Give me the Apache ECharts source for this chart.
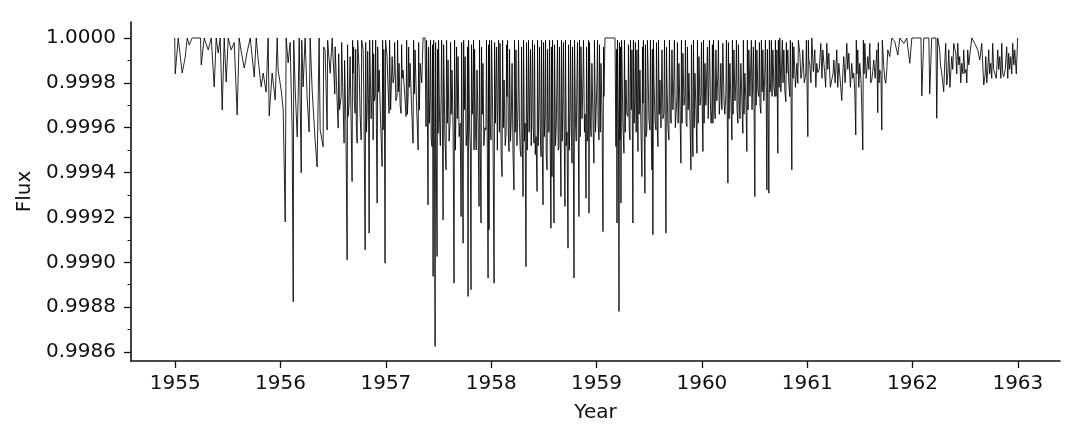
<!DOCTYPE html>
<html>
<head>
<meta charset="utf-8">
<script src="https://cdn.jsdelivr.net/npm/echarts@6/dist/echarts.min.js"></script>
<style>
html,body{margin:0;padding:0;background:#fff;}
#chart{width:1084px;height:441px;}
</style>
</head>
<body>
<div id="chart"></div>
<script>
// Light curve values: [year, flux]
const seg1955 = [[1954.995,1],[1955.000,0.999840],[1955.028,1],[1955.066,0.999844],[1955.095,0.999915],[1955.114,1],[1955.133,0.999969],[1955.161,1],[1955.240,1],[1955.247,0.999880],[1955.275,1],[1955.313,0.999947],[1955.342,1],[1955.370,0.999782],[1955.389,1],[1955.408,0.999933],[1955.427,1],[1955.446,0.999679],[1955.465,1],[1955.484,0.999804],[1955.503,1],[1955.531,0.999947],[1955.560,0.999980],[1955.588,0.999657],[1955.607,1],[1955.626,0.999940],[1955.655,0.999866],[1955.683,0.999938],[1955.712,1],[1955.750,0.999826],[1955.769,1],[1955.788,0.999902],[1955.816,0.999782],[1955.835,0.999844],[1955.863,0.999759],[1955.882,1],[1955.892,0.999653],[1955.920,0.999844],[1955.949,0.999724],[1955.968,1],[1955.977,0.999857]];
const seg1956 = [[1956.006,0.999768],[1956.025,0.999679],[1956.044,0.999180],[1956.053,1],[1956.072,0.999889],[1956.091,0.999980],[1956.110,0.999590],[1956.120,0.998824],[1956.125,0.999990],[1956.139,0.999768],[1956.158,0.999559],[1956.167,0.999737],[1956.177,1],[1956.196,0.999399],[1956.201,0.999990],[1956.214,0.999782],[1956.233,1],[1956.252,0.999737],[1956.271,0.999581],[1956.281,1],[1956.300,0.999768],[1956.328,0.999546],[1956.347,0.999425],[1956.366,1],[1956.376,0.999590],[1956.404,0.999515],[1956.409,0.999960],[1956.423,0.999947],[1956.442,0.999590],[1956.447,0.999990],[1956.471,0.999843],[1956.490,1],[1956.518,0.999961],[1956.547,0.999598],[1956.552,0.999930],[1956.575,0.999739],[1956.580,0.999980],[1956.603,0.999531],[1956.608,0.999900],[1956.632,0.999011],[1956.636,0.999970],[1956.641,0.999650],[1956.660,0.999917],[1956.679,0.999360],[1956.684,0.999990],[1956.689,0.999843],[1956.694,0.999960],[1956.708,0.999664],[1956.713,0.999950],[1956.727,0.999531],[1956.732,0.999990],[1956.746,0.999857],[1956.765,0.999546],[1956.770,0.999990],[1956.784,0.999947],[1956.803,0.999056],[1956.808,0.999980],[1956.822,0.999664],[1956.827,0.999940],[1956.841,0.999130],[1956.846,0.999990],[1956.869,0.999768],[1956.874,0.999990],[1956.879,0.999546],[1956.884,0.999930],[1956.898,0.999739],[1956.903,0.999990],[1956.917,0.999264],[1956.922,0.999960],[1956.936,0.999857],[1956.964,0.999427],[1956.969,0.999990],[1956.974,0.999590],[1956.980,0.999950],[1956.992,0.998996],[1956.997,0.999990]];
const seg1957 = [[1957.011,0.999917],[1957.030,0.999664],[1957.035,0.999990],[1957.059,0.999917],[1957.078,0.999828],[1957.083,0.999980],[1957.106,0.999739],[1957.111,0.999990],[1957.125,0.999887],[1957.144,0.999664],[1957.149,0.999970],[1957.163,0.999857],[1957.192,0.999650],[1957.197,0.999990],[1957.211,0.999739],[1957.216,0.999960],[1957.230,0.999887],[1957.258,0.999531],[1957.263,0.999990],[1957.277,0.999947],[1957.306,0.999501],[1957.311,0.999980],[1957.325,0.999887],[1957.353,1],[1957.372,1],[1957.381,0.999605],[1957.386,0.999990],[1957.400,0.999256],[1957.405,0.999960],[1957.419,0.999739],[1957.424,0.999990],[1957.438,0.999516],[1957.443,0.999970],[1957.448,0.998937],[1957.453,0.999990],[1957.467,0.998625],[1957.472,0.999980],[1957.486,0.999026],[1957.490,0.999950],[1957.495,0.999575],[1957.500,0.999990],[1957.524,0.999739],[1957.529,0.999990],[1957.543,0.999189],[1957.548,0.999970],[1957.552,0.999843],[1957.571,0.999412],[1957.576,0.999990],[1957.590,0.999902],[1957.609,0.999620],[1957.614,0.999980],[1957.628,0.999857],[1957.647,0.998907],[1957.652,0.999990],[1957.666,0.999709],[1957.671,0.999960],[1957.685,0.999917],[1957.714,0.999204],[1957.719,0.999980],[1957.733,0.999085],[1957.738,0.999990],[1957.752,0.999917],[1957.771,0.999590],[1957.775,0.999960],[1957.780,0.998848],[1957.785,0.999990],[1957.808,0.998878],[1957.813,0.999970],[1957.827,0.999739],[1957.832,0.999990],[1957.837,0.999501],[1957.842,0.999950],[1957.865,0.999857],[1957.884,0.999249],[1957.889,0.999990],[1957.903,0.999175],[1957.908,0.999960],[1957.922,0.999887],[1957.950,0.999590],[1957.955,0.999990],[1957.970,0.998930],[1957.975,0.999970],[1957.979,0.999145],[1957.984,0.999990]];
const seg1958 = [[1957.998,0.999546],[1958.003,0.999990],[1958.008,0.999857],[1958.027,0.998907],[1958.032,0.999980],[1958.046,0.999813],[1958.051,0.999960],[1958.065,0.999768],[1958.070,0.999990],[1958.084,0.999976],[1958.103,0.999382],[1958.108,0.999990],[1958.122,0.999813],[1958.141,0.999575],[1958.146,0.999970],[1958.150,0.999739],[1958.155,0.999990],[1958.169,0.999494],[1958.174,0.999950],[1958.198,0.999887],[1958.216,0.999323],[1958.221,0.999990],[1958.235,0.999947],[1958.254,0.999694],[1958.259,0.999990],[1958.283,0.999471],[1958.288,0.999960],[1958.302,0.999293],[1958.307,0.999990],[1958.330,0.998981],[1958.335,0.999980],[1958.349,0.999709],[1958.354,0.999990],[1958.368,0.999575],[1958.373,0.999950],[1958.387,0.999768],[1958.392,0.999990],[1958.406,0.999531],[1958.411,0.999970],[1958.435,0.999316],[1958.440,0.999990],[1958.454,0.999739],[1958.459,0.999960],[1958.473,0.999471],[1958.478,0.999990],[1958.492,0.999256],[1958.497,0.999980],[1958.511,0.999664],[1958.516,0.999990],[1958.530,0.999412],[1958.535,0.999950],[1958.549,0.999590],[1958.554,0.999990],[1958.567,0.999152],[1958.572,0.999960],[1958.577,0.999382],[1958.582,0.999990],[1958.596,0.999175],[1958.601,0.999970],[1958.624,0.999813],[1958.629,0.999990],[1958.643,0.999516],[1958.648,0.999960],[1958.662,0.999293],[1958.667,0.999990],[1958.681,0.999739],[1958.686,0.999980],[1958.700,0.999249],[1958.705,0.999990],[1958.729,0.999063],[1958.734,0.999970],[1958.748,0.999664],[1958.753,0.999990],[1958.767,0.999442],[1958.772,0.999960],[1958.786,0.998930],[1958.791,0.999990],[1958.814,0.999813],[1958.819,0.999980],[1958.833,0.999204],[1958.838,0.999990],[1958.852,0.999961],[1958.871,0.999813],[1958.876,0.999990],[1958.900,0.999286],[1958.905,0.999960],[1958.919,0.999590],[1958.924,0.999990],[1958.928,0.999219],[1958.933,0.999980],[1958.956,0.999887],[1958.975,0.999442],[1958.980,0.999990]];
const seg1959 = [[1959.004,0.999813],[1959.009,0.999990],[1959.023,0.999546],[1959.028,0.999970],[1959.042,0.999887],[1959.061,0.999137],[1959.066,0.999960],[1959.070,0.999739],[1959.080,1],[1959.175,1],[1959.184,0.999516],[1959.189,0.999950],[1959.194,0.999175],[1959.199,0.999990],[1959.213,0.998781],[1959.218,0.999980],[1959.222,0.999546],[1959.227,0.999960],[1959.232,0.999264],[1959.237,0.999990],[1959.241,0.999917],[1959.260,0.999486],[1959.265,0.999990],[1959.279,0.999813],[1959.298,0.999650],[1959.303,0.999970],[1959.317,0.999546],[1959.322,0.999990],[1959.336,0.999947],[1959.345,0.999175],[1959.350,0.999990],[1959.364,0.999739],[1959.369,0.999980],[1959.383,0.999947],[1959.393,0.999494],[1959.398,0.999990],[1959.412,0.999857],[1959.431,0.999382],[1959.436,0.999960],[1959.440,0.999709],[1959.445,0.999990],[1959.459,0.999308],[1959.464,0.999970],[1959.478,0.999590],[1959.483,0.999990],[1959.488,0.999887],[1959.507,0.999590],[1959.512,0.999990],[1959.526,0.999412],[1959.530,0.999950],[1959.535,0.999123],[1959.540,0.999990],[1959.545,0.999813],[1959.564,0.999590],[1959.569,0.999980],[1959.583,0.999516],[1959.588,0.999990],[1959.602,0.999813],[1959.621,0.999947],[1959.640,0.999664],[1959.645,0.999990],[1959.659,0.999130],[1959.664,0.999960],[1959.668,0.999813],[1959.687,0.999546],[1959.692,0.999990],[1959.716,0.999947],[1959.734,0.999813],[1959.739,0.999990],[1959.763,0.999739],[1959.768,0.999980],[1959.782,0.999887],[1959.801,0.999442],[1959.806,0.999990],[1959.820,0.999932],[1959.839,0.999739],[1959.844,0.999990],[1959.858,0.999605],[1959.863,0.999960],[1959.877,0.999843],[1959.896,0.999412],[1959.901,0.999970],[1959.915,0.999471],[1959.920,0.999990],[1959.934,0.999843],[1959.953,0.999486],[1959.958,0.999990],[1959.972,0.999917],[1959.991,0.999739],[1959.996,0.999980]];
const seg1960 = [[1960.010,0.999494],[1960.015,0.999990],[1960.029,0.999887],[1960.048,0.999694],[1960.053,0.999960],[1960.067,0.999828],[1960.072,0.999990],[1960.095,0.999679],[1960.100,0.999970],[1960.105,0.999620],[1960.110,0.999990],[1960.133,0.999947],[1960.152,0.999843],[1960.157,0.999990],[1960.180,0.999887],[1960.199,0.999976],[1960.228,0.999754],[1960.233,0.999990],[1960.247,0.999353],[1960.252,0.999980],[1960.266,0.999887],[1960.285,0.999546],[1960.290,0.999990],[1960.304,0.999947],[1960.323,0.999813],[1960.328,0.999990],[1960.342,0.999620],[1960.347,0.999970],[1960.370,0.999887],[1960.389,0.999575],[1960.394,0.999990],[1960.408,0.999843],[1960.427,0.999494],[1960.432,0.999990],[1960.446,0.999947],[1960.465,0.999739],[1960.470,0.999990],[1960.484,0.999679],[1960.489,0.999960],[1960.503,0.999293],[1960.508,0.999990],[1960.522,0.999947],[1960.541,0.999739],[1960.546,0.999980],[1960.560,0.999664],[1960.565,0.999990],[1960.579,0.999947],[1960.598,0.999843],[1960.603,0.999990],[1960.617,0.999323],[1960.622,0.999950],[1960.636,0.999308],[1960.641,0.999990],[1960.655,0.999813],[1960.660,0.999990],[1960.674,0.999947],[1960.693,0.999739],[1960.698,0.999990],[1960.712,0.999947],[1960.721,0.999486],[1960.726,0.999990],[1960.740,1],[1960.759,0.999768],[1960.764,0.999990],[1960.778,0.999947],[1960.797,0.999716],[1960.802,0.999980],[1960.806,0.999843],[1960.816,0.999947],[1960.835,0.999739],[1960.840,0.999990],[1960.854,0.999412],[1960.859,0.999980],[1960.873,0.999961],[1960.902,0.999887],[1960.911,0.999798],[1960.916,0.999990],[1960.930,0.999932],[1960.949,0.999843],[1960.958,0.999947],[1960.987,0.999843],[1960.992,0.999990]];
const seg1961 = [[1961.006,0.999560],[1961.011,0.999990],[1961.015,0.999902],[1961.044,1],[1961.072,0.999947],[1961.091,0.999887],[1961.101,0.999846],[1961.129,0.999976],[1961.148,0.999947],[1961.186,0.999976],[1961.205,0.999932],[1961.234,0.999816],[1961.253,0.999902],[1961.281,0.999947],[1961.300,0.999887],[1961.328,0.999721],[1961.347,0.999917],[1961.376,0.999976],[1961.395,0.999932],[1961.423,0.999887],[1961.442,0.999843],[1961.461,0.999568],[1961.466,0.999990],[1961.480,0.999947],[1961.499,0.999887],[1961.528,0.999501],[1961.533,0.999990],[1961.547,0.999976],[1961.575,0.999917],[1961.594,0.999976],[1961.613,0.999813],[1961.632,0.999902],[1961.661,0.999947],[1961.670,0.999667],[1961.675,0.999980],[1961.689,0.999857],[1961.708,0.999590],[1961.713,0.999990],[1961.727,0.999872],[1961.746,0.999798],[1961.765,0.999947],[1961.784,0.999917],[1961.803,1],[1961.831,0.999984],[1961.860,0.999924],[1961.879,1],[1961.917,0.999976],[1961.945,1],[1961.974,0.999887],[1961.993,1]];
const seg1962 = [[1962.080,1],[1962.088,0.999742],[1962.107,1],[1962.155,1],[1962.163,0.999751],[1962.182,1],[1962.222,1],[1962.230,0.999642],[1962.239,1],[1962.258,0.999947],[1962.277,0.999843],[1962.296,0.999761],[1962.315,0.999976],[1962.325,0.999791],[1962.344,0.999947],[1962.372,0.999917],[1962.391,0.999976],[1962.410,0.999932],[1962.429,0.999976],[1962.448,0.999917],[1962.467,0.999887],[1962.486,0.999947],[1962.496,0.999843],[1962.524,0.999947],[1962.534,0.999880],[1962.562,1],[1962.590,0.999976],[1962.619,0.999947],[1962.638,0.999902],[1962.657,0.999976],[1962.676,0.999791],[1962.695,0.999917],[1962.714,0.999857],[1962.723,0.999947],[1962.742,0.999887],[1962.761,0.999976],[1962.780,0.999860],[1962.809,0.999947],[1962.828,0.999917],[1962.847,0.999976],[1962.866,0.999828],[1962.894,0.999961],[1962.913,0.999932],[1962.932,0.999917],[1962.951,0.999976],[1962.970,0.999947],[1962.998,1]];

const band1956 = [[1956.515,0.99975],[1956.560,0.99968],[1956.590,0.99978],[1956.620,0.99962],[1956.650,0.99970],[1956.700,0.99972],[1956.720,0.99960],[1956.755,0.99966],[1956.790,0.99975],[1956.815,0.99958],[1956.835,0.99970],[1956.860,0.99964],[1956.890,0.99972],[1956.910,0.99960],[1956.930,0.99976],[1956.950,0.99962],[1956.986,0.99970]];
const band1957 = [[1957.020,0.99978],[1957.045,0.99968],[1957.068,0.99980],[1957.095,0.99972],[1957.118,0.99976],[1957.135,0.99970],[1957.155,0.99982],[1957.180,0.99974],[1957.204,0.99966],[1957.222,0.99978],[1957.245,0.99968],[1957.270,0.99975],[1957.290,0.99972],[1957.318,0.99968],[1957.340,0.99980],[1957.393,0.99972],[1957.412,0.99962],[1957.430,0.99955],[1957.460,0.99960],[1957.478,0.99950],[1957.510,0.99962],[1957.517,0.99952],[1957.536,0.99965],[1957.560,0.99956],[1957.583,0.99962],[1957.600,0.99954],[1957.620,0.99966],[1957.638,0.99958],[1957.660,0.99950],[1957.678,0.99964],[1957.695,0.99956],[1957.705,0.99962],[1957.725,0.99955],[1957.745,0.99968],[1957.762,0.99952],[1957.795,0.99960],[1957.802,0.99950],[1957.820,0.99966],[1957.850,0.99958],[1957.858,0.99950],[1957.875,0.99962],[1957.895,0.99955],[1957.915,0.99966],[1957.930,0.99952],[1957.940,0.99960],[1957.962,0.99956],[1957.990,0.99962]];
const band1958 = [[1958.017,0.99955],[1958.040,0.99962],[1958.058,0.99950],[1958.078,0.99958],[1958.094,0.99948],[1958.115,0.99960],[1958.133,0.99952],[1958.162,0.99958],[1958.183,0.99954],[1958.190,0.99964],[1958.207,0.99948],[1958.228,0.99958],[1958.244,0.99952],[1958.268,0.99962],[1958.275,0.99950],[1958.295,0.99958],[1958.315,0.99954],[1958.322,0.99962],[1958.342,0.99950],[1958.360,0.99958],[1958.380,0.99952],[1958.398,0.99960],[1958.418,0.99948],[1958.426,0.99956],[1958.446,0.99952],[1958.465,0.99960],[1958.485,0.99950],[1958.504,0.99956],[1958.522,0.99948],[1958.541,0.99958],[1958.560,0.99950],[1958.588,0.99956],[1958.610,0.99952],[1958.617,0.99960],[1958.636,0.99950],[1958.655,0.99958],[1958.674,0.99954],[1958.692,0.99962],[1958.713,0.99952],[1958.720,0.99958],[1958.741,0.99950],[1958.760,0.99960],[1958.779,0.99955],[1958.800,0.99962],[1958.807,0.99954],[1958.826,0.99960],[1958.845,0.99956],[1958.862,0.99964],[1958.885,0.99958],[1958.892,0.99966],[1958.912,0.99954],[1958.942,0.99962],[1958.948,0.99956],[1958.966,0.99964],[1958.990,0.99958]];
const band1959 = [[1959.015,0.99962],[1959.035,0.99958],[1959.052,0.99966],[1959.208,0.99960],[1959.250,0.99962],[1959.272,0.99958],[1959.288,0.99966],[1959.310,0.99960],[1959.330,0.99968],[1959.357,0.99962],[1959.376,0.99958],[1959.405,0.99966],[1959.422,0.99958],[1959.452,0.99962],[1959.470,0.99956],[1959.497,0.99964],[1959.519,0.99958],[1959.556,0.99962],[1959.576,0.99960],[1959.595,0.99966],[1959.612,0.99960],[1959.630,0.99964],[1959.652,0.99962],[1959.678,0.99960],[1959.700,0.99966],[1959.708,0.99962],[1959.725,0.99968],[1959.748,0.99960],[1959.755,0.99966],[1959.775,0.99962],[1959.792,0.99968],[1959.812,0.99962],[1959.830,0.99970],[1959.850,0.99962],[1959.870,0.99968],[1959.888,0.99962],[1959.908,0.99966],[1959.927,0.99960],[1959.944,0.99968],[1959.965,0.99962],[1959.982,0.99970]];
const band1960 = [[1960.003,0.99968],[1960.021,0.99962],[1960.038,0.99970],[1960.060,0.99964],[1960.082,0.99968],[1960.088,0.99962],[1960.120,0.99970],[1960.126,0.99964],[1960.142,0.99972],[1960.165,0.99966],[1960.172,0.99972],[1960.190,0.99968],[1960.210,0.99972],[1960.218,0.99966],[1960.240,0.99970],[1960.258,0.99964],[1960.276,0.99972],[1960.296,0.99966],[1960.314,0.99972],[1960.334,0.99968],[1960.356,0.99970],[1960.362,0.99964],[1960.380,0.99972],[1960.400,0.99966],[1960.418,0.99972],[1960.438,0.99968],[1960.456,0.99974],[1960.476,0.99968],[1960.494,0.99974],[1960.515,0.99970],[1960.532,0.99976],[1960.552,0.99970],[1960.572,0.99976],[1960.588,0.99972],[1960.610,0.99978],[1960.628,0.99972],[1960.647,0.99976],[1960.666,0.99974],[1960.684,0.99978],[1960.704,0.99974],[1960.733,0.99978],[1960.750,0.99976],[1960.770,0.99980],[1960.788,0.99976],[1960.825,0.99980],[1960.846,0.99976],[1960.866,0.99982],[1960.888,0.99978],[1960.940,0.99982],[1960.972,0.99980]];
const band1961 = [[1961.025,0.99988],[1961.035,0.99980],[1961.058,0.99985],[1961.082,0.99978],[1961.115,0.99986],[1961.140,0.99982],[1961.165,0.99985],[1961.175,0.99978],[1961.195,0.99986],[1961.220,0.99978],[1961.245,0.99984],[1961.265,0.99980],[1961.290,0.99978],[1961.312,0.99982],[1961.338,0.99984],[1961.360,0.99980],[1961.385,0.99986],[1961.410,0.99978],[1961.432,0.99982],[1961.452,0.99976],[1961.472,0.99984],[1961.490,0.99978],[1961.512,0.99980],[1961.540,0.99984],[1961.560,0.99982],[1961.585,0.99986],[1961.603,0.99980],[1961.622,0.99985],[1961.645,0.99982],[1961.682,0.99980],[1961.700,0.99984],[1961.736,0.99982],[1961.756,0.99986]];
const band1962 = [[1962.265,0.99988],[1962.287,0.99980],[1962.305,0.99988],[1962.335,0.99984],[1962.355,0.99978],[1962.382,0.99986],[1962.420,0.99984],[1962.440,0.99988],[1962.458,0.99980],[1962.478,0.99984],[1962.508,0.99986],[1962.515,0.99980],[1962.690,0.99984],[1962.705,0.99980],[1962.732,0.99984],[1962.752,0.99982],[1962.770,0.99986],[1962.795,0.99982],[1962.818,0.99986],[1962.838,0.99982],[1962.856,0.99984],[1962.880,0.99986],[1962.904,0.99982],[1962.922,0.99986],[1962.942,0.99984],[1962.962,0.99988],[1962.985,0.99984]];

// Axis ticks
const yearTicks = [1955, 1956, 1957, 1958, 1959, 1960, 1961, 1962, 1963];
const fluxTicks = [0.9986, 0.9988, 0.9990, 0.9992, 0.9994, 0.9996, 0.9998, 1.0000];
const fluxMinorTicks = [0.9987, 0.9989, 0.9991, 0.9993, 0.9995, 0.9997, 0.9999];

const lightCurve = [].concat(seg1955, seg1956, seg1957, seg1958, seg1959, seg1960, seg1961, seg1962,
  band1956, band1957, band1958, band1959, band1960, band1961, band1962)
  .sort((a, b) => a[0] - b[0]);

const FONT = 'DejaVu Sans';
const INK = '#111';
const chart = echarts.init(document.getElementById('chart'), null, {renderer: 'canvas'});
const yRange = {min: 0.99856, max: 1.0000713};
chart.setOption({
  animation: false,
  backgroundColor: '#fff',
  grid: {left: 131, right: 24, top: 22, bottom: 80},
  xAxis: {
    type: 'value', min: 1954.58, max: 1963.40,
    name: 'Year', nameLocation: 'middle', nameGap: 42,
    nameTextStyle: {fontFamily: FONT, fontSize: 20, color: INK},
    axisLine: {show: true, lineStyle: {color: INK, width: 1.6}},
    axisTick: {show: true, length: 7, lineStyle: {color: INK, width: 1.3}, customValues: yearTicks},
    axisLabel: {fontFamily: FONT, fontSize: 20, color: INK, margin: 13, customValues: yearTicks, formatter: v => String(Math.round(v))},
    splitLine: {show: false}
  },
  yAxis: [{
    type: 'value', min: yRange.min, max: yRange.max,
    name: 'Flux', nameLocation: 'middle', nameGap: 96,
    nameTextStyle: {fontFamily: FONT, fontSize: 20, color: INK},
    axisLine: {show: true, lineStyle: {color: INK, width: 1.6}},
    axisTick: {show: true, length: 7, lineStyle: {color: INK, width: 1.3}, customValues: fluxTicks},
    axisLabel: {fontFamily: FONT, fontSize: 20, color: INK, margin: 15, customValues: fluxTicks, formatter: v => v.toFixed(4)},
    splitLine: {show: false}
  }, {
    type: 'value', min: yRange.min, max: yRange.max, position: 'left',
    axisLine: {show: false},
    axisTick: {show: true, length: 3.5, lineStyle: {color: INK, width: 1}, customValues: fluxMinorTicks},
    axisLabel: {show: false, customValues: fluxMinorTicks},
    splitLine: {show: false}
  }],
  series: [{
    type: 'line', data: lightCurve, yAxisIndex: 0,
    showSymbol: false, symbol: 'none', sampling: null,
    lineStyle: {color: '#000', width: 0.85},
    silent: true
  }]
});
</script>
</body>
</html>
